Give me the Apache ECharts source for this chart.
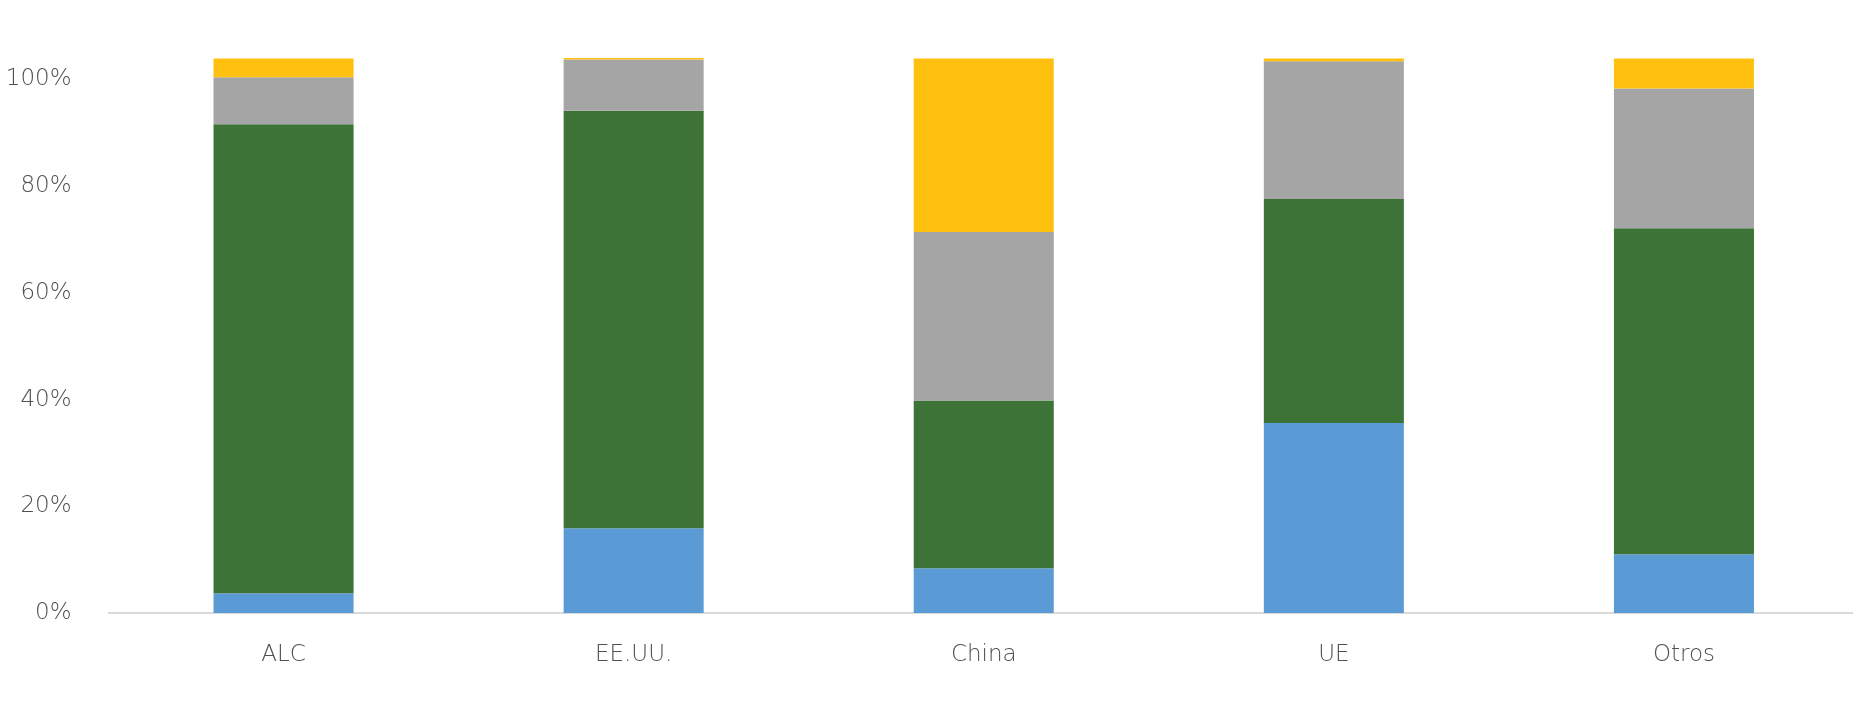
<!DOCTYPE html>
<html>
<head>
<meta charset="utf-8">
<script src="https://cdn.jsdelivr.net/npm/echarts@6/dist/echarts.min.js"></script>
<style>
html,body{margin:0;padding:0;background:#fff;overflow:hidden;width:1853px;height:703px;}
#chart{width:1860px;height:703px;}
</style>
</head>
<body>
<div id="chart"></div>
<script>
const categories = ['ALC', 'EE.UU.', 'China', 'UE', 'Otros'];
const serieAzul = [3.7, 15.9, 8.4, 35.6, 11.0];
const serieVerde = [87.9, 78.2, 31.4, 42.0, 61.1];
const serieGris = [8.8, 9.6, 31.6, 25.8, 26.2];
const serieAmarilla = [3.5, 0.4, 32.5, 0.5, 5.6];
const yTicks = [0, 20, 40, 60, 80, 100];

const fontFam = '"DejaVu Sans", sans-serif';
const chart = echarts.init(document.getElementById('chart'));
function mk(name, data, color) {
  return {
    name: name, type: 'bar', stack: 'total', data: data,
    barWidth: '40%',
    itemStyle: { color: color },
    emphasis: { disabled: true }
  };
}
chart.setOption({
  animation: false,
  backgroundColor: '#ffffff',
  grid: { left: 108.5, right: 1, top: 58, bottom: 90, containLabel: false },
  xAxis: {
    type: 'category',
    data: categories,
    axisLine: { show: true, lineStyle: { color: '#d9d9d9', width: 2 } },
    axisTick: { show: false },
    axisLabel: { color: '#505050', fontSize: 23, fontFamily: fontFam, fontWeight: 200, margin: 31 }
  },
  yAxis: {
    type: 'value',
    min: 0, max: 104, interval: 20,
    splitLine: { show: false },
    axisLine: { show: false },
    axisTick: { show: false },
    axisLabel: {
      color: '#505050', fontSize: 23, fontFamily: fontFam, fontWeight: 200, margin: 37,
      showMaxLabel: false,
      formatter: function (v) { return yTicks.indexOf(v) >= 0 ? v + '%' : ''; }
    }
  },
  series: [
    mk('Azul', serieAzul, '#5B9BD5'),
    mk('Verde', serieVerde, '#3D7337'),
    mk('Gris', serieGris, '#A5A5A5'),
    mk('Amarilla', serieAmarilla, '#FFC010')
  ]
});
</script>
</body>
</html>
